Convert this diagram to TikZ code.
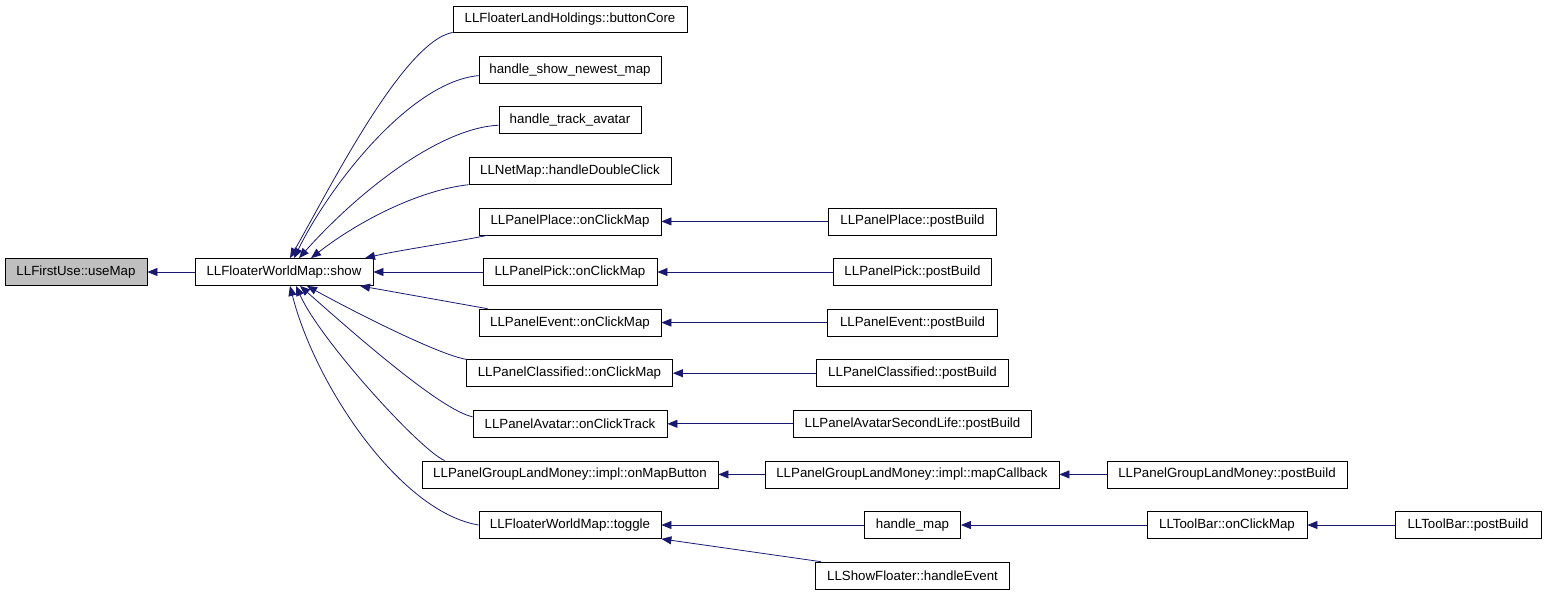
\documentclass[tikz,border=0pt]{standalone}
\usepackage{fontspec}
\setmainfont{Liberation Sans}
\usetikzlibrary{arrows.meta}
\definecolor{edgeblue}{HTML}{191970}
\definecolor{boxgray}{HTML}{BFBFBF}
\begin{document}
\begin{tikzpicture}[x=1pt,y=-1pt,
  fn/.style={draw=black, line width=0.8pt, fill=white, minimum height=27pt, inner sep=0pt,
    font=\fontsize{13.3}{15}\selectfont, text=black},
  edge/.style={draw=edgeblue, line width=0.8pt, -{Triangle[length=10pt,width=8pt]}}]
\useasboundingbox (0,0) rectangle (1547,595);
% column 1-2
\node[fn, fill=boxgray, minimum width=142pt] (useMap) at (76,272) {LLFirstUse::useMap};
\node[fn, minimum width=178pt] (show) at (284,272) {LLFloaterWorldMap::show};
% column 3
\node[fn, minimum width=234pt, minimum height=26pt] (buttonCore) at (570,19) {LLFloaterLandHoldings::buttonCore};
\node[fn, minimum width=182pt] (newest) at (570,69.6) {handle\_show\_newest\_map};
\node[fn, minimum width=142pt] (track) at (570,120.2) {handle\_track\_avatar};
\node[fn, minimum width=202pt] (netmap) at (570,170.8) {LLNetMap::handleDoubleClick};
\node[fn, minimum width=182pt] (placeOn) at (570,221.4) {LLPanelPlace::onClickMap};
\node[fn, minimum width=174pt] (pickOn) at (570,272) {LLPanelPick::onClickMap};
\node[fn, minimum width=182pt] (eventOn) at (570,322.6) {LLPanelEvent::onClickMap};
\node[fn, minimum width=206pt] (classifiedOn) at (569.5,373.2) {LLPanelClassified::onClickMap};
\node[fn, minimum width=194pt] (avatarOn) at (570,423.8) {LLPanelAvatar::onClickTrack};
\node[fn, minimum width=296pt] (mapButton) at (570,474.4) {LLPanelGroupLandMoney::impl::onMapButton};
\node[fn, minimum width=182pt] (toggle) at (570,525) {LLFloaterWorldMap::toggle};
% column 4
\node[fn, minimum width=168pt] (placePB) at (912.5,221.4) {LLPanelPlace::postBuild};
\node[fn, minimum width=158pt] (pickPB) at (912.5,272) {LLPanelPick::postBuild};
\node[fn, minimum width=170pt] (eventPB) at (912.5,322.6) {LLPanelEvent::postBuild};
\node[fn, minimum width=192pt] (classifiedPB) at (912.5,373.2) {LLPanelClassified::postBuild};
\node[fn, minimum width=238pt] (avatarPB) at (912.5,423.8) {LLPanelAvatarSecondLife::postBuild};
\node[fn, minimum width=294pt] (mapCallback) at (912,474.4) {LLPanelGroupLandMoney::impl::mapCallback};
\node[fn, minimum width=96pt] (handleMap) at (912.5,525) {handle\_map};
\node[fn, minimum width=194pt] (showFloater) at (912.5,575.6) {LLShowFloater::handleEvent};
% column 5-6
\node[fn, minimum width=240pt] (glmPB) at (1227,474.4) {LLPanelGroupLandMoney::postBuild};
\node[fn, minimum width=160pt] (tbOnClick) at (1227,525) {LLToolBar::onClickMap};
\node[fn, minimum width=146pt] (tbPB) at (1468,525) {LLToolBar::postBuild};
% edges
\draw[edge] (show.west) -- (useMap.east);
\draw[edge] (buttonCore.south west) .. controls (403,42) and (330,188) .. ([xshift=6pt]show.north);
\draw[edge] ([yshift=-6pt]newest.west) .. controls (410,82) and (330,185) .. ([xshift=10pt]show.north);
\draw[edge] ([yshift=-5pt]track.west) .. controls (440,128) and (360,190) .. ([xshift=15pt]show.north);
\draw[edge] (netmap.south west) .. controls (420,190) and (360,220) .. ([xshift=27pt]show.north);
\draw[edge] ([xshift=9pt]placeOn.south west) .. controls (450,243) and (400,250) .. ([xshift=81pt]show.north);
\draw[edge] (pickOn.west) -- (show.east);
\draw[edge] ([xshift=9pt]eventOn.north west) .. controls (450,302) and (400,293) .. ([xshift=76pt]show.south);
\draw[edge] (classifiedOn.north west) .. controls (440,355) and (360,315) .. ([xshift=23pt]show.south);
\draw[edge] ([yshift=7pt]avatarOn.west) .. controls (440,410) and (350,330) .. ([xshift=16pt]show.south);
\draw[edge] ([xshift=23pt]mapButton.north west) .. controls (420,450) and (320,340) .. ([xshift=12pt]show.south);
\draw[edge] (toggle.west) .. controls (400,512) and (315,385) .. ([xshift=6pt]show.south);
\draw[edge] (placePB.west) -- (placeOn.east);
\draw[edge] (pickPB.west) -- (pickOn.east);
\draw[edge] (eventPB.west) -- (eventOn.east);
\draw[edge] (classifiedPB.west) -- (classifiedOn.east);
\draw[edge] (avatarPB.west) -- (avatarOn.east);
\draw[edge] (mapCallback.west) -- (mapButton.east);
\draw[edge] (glmPB.west) -- (mapCallback.east);
\draw[edge] (handleMap.west) -- (toggle.east);
\draw[edge] (tbOnClick.west) -- (handleMap.east);
\draw[edge] (tbPB.west) -- (tbOnClick.east);
\draw[edge] ([xshift=6pt]showFloater.north west) -- (toggle.south east);
\end{tikzpicture}
\end{document}
